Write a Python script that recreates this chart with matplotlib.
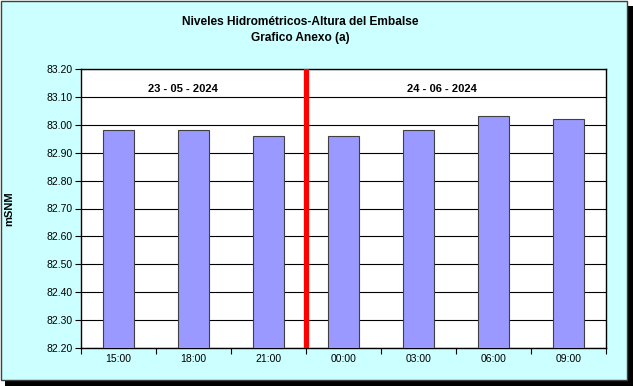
import numpy as np
import matplotlib.pyplot as plt
from matplotlib.patches import Rectangle

plt.rcParams['font.family'] = ['Liberation Sans', 'DejaVu Sans']

# ── Data ──────────────────────────────────────────────────────────────────────
horas   = ["15:00", "18:00", "21:00", "00:00", "03:00", "06:00", "09:00"]
niveles = [82.98, 82.98, 82.96, 82.96, 82.98, 83.03, 83.02]
fechas  = ["23 - 05 - 2024", "24 - 06 - 2024"]
corte   = 3          # index where the second day starts
yticks  = np.round(np.arange(82.20, 83.201, 0.10), 2)

# ── Figure ────────────────────────────────────────────────────────────────────
W, H = 633, 386
fig = plt.figure(figsize=(W / 100, H / 100), dpi=100)
fig.patch.set_facecolor("white")

# background panel with shadow
fig.patches.append(Rectangle((5 / W, 0), (W - 5) / W, (H - 6) / H,
                             transform=fig.transFigure, facecolor="black",
                             edgecolor="none", zorder=-10))
fig.patches.append(Rectangle((1 / W, 6 / H), (W - 7) / W, (H - 7) / H,
                             transform=fig.transFigure, facecolor="#CCFFFF",
                             edgecolor="#404040", lw=1, zorder=-9))

ax = fig.add_axes([81 / W, 38 / H, 525 / W, 279 / H])
ax.set_facecolor("white")

x = np.arange(len(horas))
ax.bar(x, niveles, width=0.41, bottom=0, color="#9999FF",
       edgecolor="#404040", lw=0.8, zorder=3)

ax.set_xlim(-0.5, len(horas) - 0.5)
ax.set_ylim(82.20, 83.20)
ax.set_yticks(yticks)
ax.set_yticklabels([f"{v:.2f}" for v in yticks], fontsize=7.5)
ax.set_xticks(x)
ax.set_xticklabels(horas, fontsize=7.5)
ax.set_xticks(np.arange(-0.5, len(horas)), minor=True)
ax.tick_params(axis="x", which="major", length=0, pad=4)
ax.tick_params(axis="x", which="minor", length=4, width=0.8, direction="out")
ax.tick_params(axis="y", length=4, width=0.8, direction="out", pad=2)

for v in yticks:
    ax.axhline(v, color="black", lw=0.8, zorder=1)
for s in ax.spines.values():
    s.set_linewidth(1.0)
    s.set_color("black")

# day separator
ax.axvline(corte - 0.5, color="red", lw=3.8, zorder=4)

ax.text(0.195, 0.93, fechas[0], transform=ax.transAxes, ha="center",
        va="center", fontsize=8, fontweight="bold", zorder=5)
ax.text(0.687, 0.93, fechas[1], transform=ax.transAxes, ha="center",
        va="center", fontsize=8, fontweight="bold", zorder=5)

ax.set_ylabel("mSNM", fontsize=8, fontweight="bold")
ax.yaxis.set_label_coords(-0.128, 0.5)

fig.text(0.474, (H - 22) / H, "Niveles Hidrométricos-Altura del Embalse",
         ha="center", va="center", fontsize=8.6, fontweight="bold")
fig.text(0.474, (H - 38) / H, "Grafico Anexo (a)",
         ha="center", va="center", fontsize=8.6, fontweight="bold")

plt.savefig("out.png", dpi=100)
plt.close()
